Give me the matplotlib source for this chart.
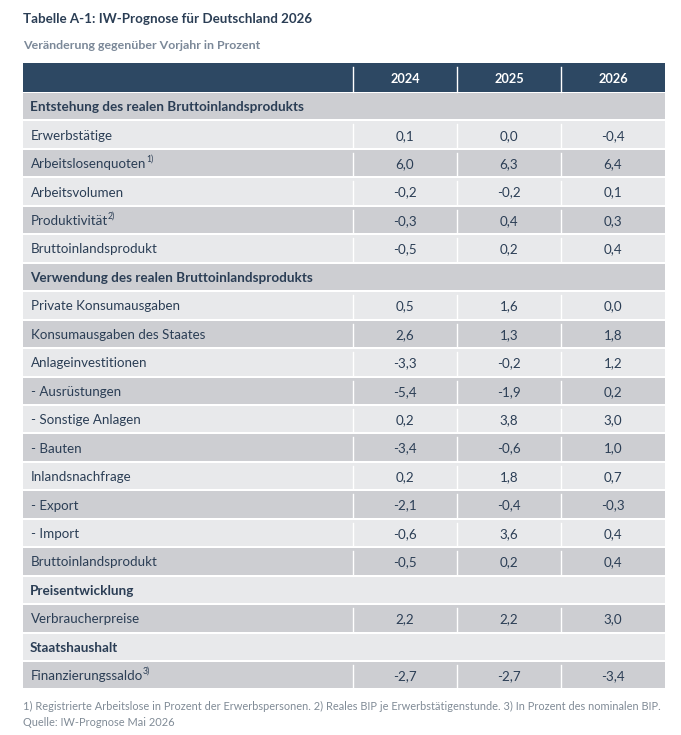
import matplotlib
matplotlib.use("Agg")
import matplotlib.pyplot as plt
from matplotlib.patches import Rectangle

plt.rcParams['font.family'] = ['Lato', 'DejaVu Sans']

## data
title = "Tabelle A-1: IW-Prognose für Deutschland 2026"
subtitle = "Veränderung gegenüber Vorjahr in Prozent"
years = ["2024", "2025", "2026"]
labels = ["Entstehung des realen Bruttoinlandsprodukts",
          "Erwerbstätige", "Arbeitslosenquoten", "Arbeitsvolumen", "Produktivität",
          "Bruttoinlandsprodukt",
          "Verwendung des realen Bruttoinlandsprodukts",
          "Private Konsumausgaben", "Konsumausgaben des Staates", "Anlageinvestitionen",
          "- Ausrüstungen", "- Sonstige Anlagen", "- Bauten", "Inlandsnachfrage",
          "- Export", "- Import", "Bruttoinlandsprodukt",
          "Preisentwicklung",
          "Verbraucherpreise",
          "Staatshaushalt",
          "Finanzierungssaldo"]
notes = ["", "", "1)", "", "2)", "", "", "", "", "", "", "", "", "", "", "", "", "", "", "", "3)"]
v2024 = [None, 0.1, 6.0, -0.2, -0.3, -0.5, None, 0.5, 2.6, -3.3, -5.4, 0.2, -3.4, 0.2, -2.1, -0.6, -0.5, None, 2.2, None, -2.7]
v2025 = [None, 0.0, 6.3, -0.2, 0.4, 0.2, None, 1.6, 1.3, -0.2, -1.9, 3.8, -0.6, 1.8, -0.4, 3.6, 0.2, None, 2.2, None, -2.7]
v2026 = [None, -0.4, 6.4, 0.1, 0.3, 0.4, None, 0.0, 1.8, 1.2, 0.2, 3.0, 1.0, 0.7, -0.3, 0.4, 0.4, None, 3.0, None, -3.4]
footnote = "1) Registrierte Arbeitslose in Prozent der Erwerbspersonen. 2) Reales BIP je Erwerbstätigenstunde. 3) In Prozent des nominalen BIP."
source = "Quelle: IW-Prognose Mai 2026"

## style
navy = "#2d4863"
textc = "#2b3e55"
dark = "#cdced2"
light = "#e8e9eb"
col_x = [23, 353, 457, 561, 665]
top = 63
head_h = 29
row_h = 28.45

fig = plt.figure(figsize=(6.81, 7.35), dpi=100)
ax = fig.add_axes([0, 0, 1, 1])
ax.set_xlim(0, 681)
ax.set_ylim(735, 0)
ax.axis("off")

ax.text(23, 19, title, fontsize=9.6, fontweight="bold", color=textc, va="center")
ax.text(23, 45, subtitle, fontsize=8.9, fontweight="bold", color="#7b8898", va="center")

# header
ax.add_patch(Rectangle((col_x[0], top), col_x[-1] - col_x[0], head_h, color=navy, lw=0))
for j, y in enumerate(years):
    cx = (col_x[j + 1] + col_x[j + 2]) / 2
    ax.text(cx, top + head_h / 2 + 1, y, fontsize=9.2, fontweight="bold", color="white", ha="center", va="center")
for x in col_x[1:4]:
    ax.plot([x, x], [top + 4, top + head_h], color="white", lw=1)

fig.canvas.draw()
renderer = fig.canvas.get_renderer()

for i, lab in enumerate(labels):
    y0 = top + head_h + i * row_h
    bg = dark if i % 2 == 0 else light
    ax.add_patch(Rectangle((col_x[0], y0 + 1), col_x[-1] - col_x[0], row_h - 2, color=bg, lw=0))
    yc = y0 + row_h / 2 + 1
    if v2024[i] is None:
        ax.text(30, yc, lab, fontsize=9.7, fontweight="bold", color=textc, va="center")
        continue
    t = ax.text(31, yc, lab, fontsize=9.6, color=textc, va="center")
    if notes[i]:
        bb = t.get_window_extent(renderer)
        xe = bb.x1  # pixels == data units horizontally
        ax.text(xe - 0.5, yc - 5, notes[i], fontsize=6.2, color=textc, va="center")
    for x in col_x[1:4]:
        ax.plot([x, x], [y0 + 4, y0 + row_h - 1], color="white", lw=1)
    for j, vals in enumerate([v2024, v2025, v2026]):
        cx = (col_x[j + 1] + col_x[j + 2]) / 2
        s = ("%.1f" % vals[i]).replace(".", ",")
        ax.text(cx, yc, s, fontsize=9.6, color=textc, ha="center", va="center")

ax.text(23, 706, footnote, fontsize=7.95, color="#808b96", va="center")
ax.text(23, 723, source, fontsize=7.95, color="#808b96", va="center")

plt.savefig("out.png", dpi=100)
plt.close()
